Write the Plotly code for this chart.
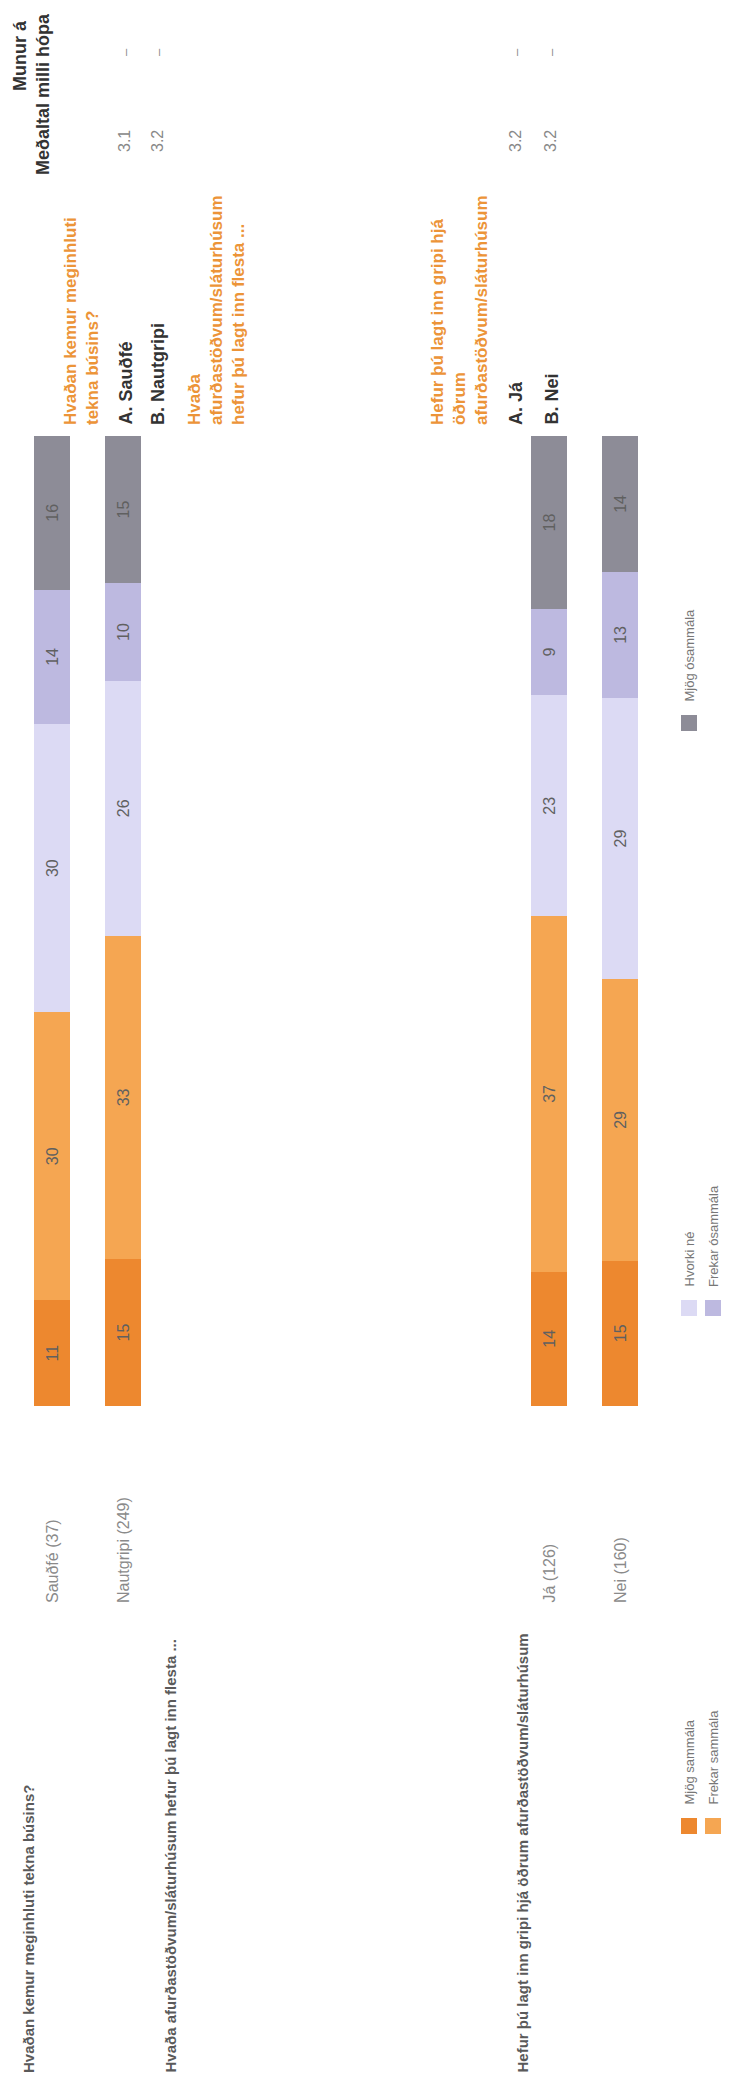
import plotly.graph_objects as go

# ---------------- data ----------------
categories = ["Sauðfé (37)", "Nautgripi (249)", "Já (126)", "Nei (160)"]
series_names = ["Mjög sammála", "Frekar sammála", "Hvorki né", "Frekar ósammála", "Mjög ósammála"]
mjog_sammala = [11, 15, 14, 15]
frekar_sammala = [30, 33, 37, 29]
hvorki_ne = [30, 26, 23, 29]
frekar_osammala = [14, 10, 9, 13]
mjog_osammala = [16, 15, 18, 14]

left_questions = [
    "Hvaðan kemur meginhluti tekna búsins?",
    "Hvaða afurðastöðvum/sláturhúsum hefur þú lagt inn flesta ...",
    "Hefur þú lagt inn gripi hjá öðrum afurðastöðvum/sláturhúsum",
]
table_questions = [
    "Hvaðan kemur meginhluti<br>tekna búsins?",
    "Hvaða<br>afurðastöðvum/sláturhúsum<br>hefur þú lagt inn flesta ...",
    "Hefur þú lagt inn gripi hjá<br>öðrum<br>afurðastöðvum/sláturhúsum",
]
table_rows = ["A. Sauðfé", "B. Nautgripi", "A. Já", "B. Nei"]
means = ["3.1", "3.2", "3.2", "3.2"]
diffs = ["–", "–", "–", "–"]
header_mean = "Meðaltal"
header_diff = "Munur á<br>milli hópa"

# ---------------- styling / layout ----------------
colors = ["#ED882F", "#F5A652", "#DCDAF4", "#BDB9E0", "#8D8C97"]
PAGE_W, PAGE_H = 731, 2085
OFF = 8                                  # default body margin of the html page
W, H = PAGE_W - 2 * OFF, PAGE_H - 2 * OFF
BAR_TOP, BAR_BOTTOM = 436 - OFF, 1406 - OFF
bar_pos = [0, 1, 7, 8]
FONT = "Arial, Liberation Sans, sans-serif"
ORANGE = "#EC9438"
X0 = 52 - OFF      # pixel of first bar centre
UNIT = 71          # pixels between neighbouring bars


def xp(px):
    return (px - OFF) / W


def yp(py):
    return (BAR_BOTTOM - (py - OFF)) / (BAR_BOTTOM - BAR_TOP)


fig = go.Figure()
all_series = [mjog_sammala, frekar_sammala, hvorki_ne, frekar_osammala, mjog_osammala]
for name, vals, col in zip(series_names, all_series, colors):
    fig.add_trace(go.Bar(
        x=bar_pos, y=vals, name=name, marker=dict(color=col, line=dict(width=0)),
        width=0.51, text=[str(v) for v in vals], textposition="inside",
        textangle=-90, insidetextanchor="middle", constraintext="none",
        textfont=dict(color="#606060", size=16, family=FONT),
        showlegend=False, hovertemplate=name + ": %{text}<extra></extra>",
    ))

ann = []
# left question labels
for q, px in zip(left_questions, [28, 170, 522]):
    ann.append(dict(text="<b>" + q + "</b>", xref="paper", yref="paper", x=xp(px), y=yp(2075),
                    xanchor="center", yanchor="bottom", textangle=-90, showarrow=False,
                    font=dict(size=15, color="#5a5a5a", family=FONT)))
# category labels
for c, pos in zip(categories, bar_pos):
    ann.append(dict(text=c, xref="x", yref="paper", x=pos, y=yp(1605),
                    xanchor="center", yanchor="bottom", textangle=-90, showarrow=False,
                    font=dict(size=16, color="#8a8a8a", family=FONT)))
# table questions (orange)
for q, px in zip(table_questions, [81, 216, 459]):
    ann.append(dict(text="<b>" + q + "</b>", xref="paper", yref="paper", x=xp(px), y=yp(427),
                    xanchor="center", yanchor="bottom", textangle=-90, showarrow=False,
                    align="left", font=dict(size=17, color=ORANGE, family=FONT)))
# table rows, means, diffs
for r, m, d, px in zip(table_rows, means, diffs, [125, 158, 516, 551]):
    ann.append(dict(text="<b>" + r + "</b>", xref="paper", yref="paper", x=xp(px), y=yp(427),
                    xanchor="center", yanchor="bottom", textangle=-90, showarrow=False,
                    font=dict(size=18, color="#333333", family=FONT)))
    ann.append(dict(text=m, xref="paper", yref="paper", x=xp(px), y=yp(141),
                    xanchor="center", yanchor="middle", textangle=-90, showarrow=False,
                    font=dict(size=16, color="#888888", family=FONT)))
    ann.append(dict(text=d, xref="paper", yref="paper", x=xp(px), y=yp(52),
                    xanchor="center", yanchor="middle", textangle=-90, showarrow=False,
                    font=dict(size=13, color="#888888", family=FONT)))
# headers
ann.append(dict(text="<b>" + header_mean + "</b>", xref="paper", yref="paper", x=xp(43), y=yp(139),
                xanchor="center", yanchor="middle", textangle=-90, showarrow=False,
                font=dict(size=18, color="#333333", family=FONT)))
ann.append(dict(text="<b>" + header_diff + "</b>", xref="paper", yref="paper", x=xp(31), y=yp(55),
                xanchor="center", yanchor="middle", textangle=-90, showarrow=False,
                align="center", font=dict(size=18, color="#333333", family=FONT)))

# manual rotated legend
legend_cols = [1826, 1308, 723]  # square centre (vertical position) of each legend column
legend_rows = [689, 713]         # horizontal position of each legend row
shapes = []
for i, (name, col) in enumerate(zip(series_names, colors)):
    cy = legend_cols[i // 2]
    cx = legend_rows[i % 2]
    shapes.append(dict(type="rect", xref="paper", yref="paper",
                       x0=xp(cx - 8), x1=xp(cx + 8), y0=yp(cy + 8), y1=yp(cy - 8),
                       fillcolor=col, line=dict(width=0)))
    ann.append(dict(text=name, xref="paper", yref="paper", x=xp(cx), y=yp(cy - 19),
                    xanchor="center", yanchor="bottom", textangle=-90, showarrow=False,
                    font=dict(size=13, color="#777777", family=FONT)))

fig.update_layout(
    width=W, height=H, barmode="stack", barnorm="percent",
    margin=dict(l=0, r=0, t=BAR_TOP, b=H - BAR_BOTTOM, pad=0),
    paper_bgcolor="white", plot_bgcolor="white",
    xaxis=dict(range=[-X0 / UNIT, (W - X0) / UNIT], visible=False, fixedrange=True),
    yaxis=dict(range=[0, 100], visible=False, fixedrange=True),
    annotations=ann, shapes=shapes, showlegend=False,
)

fig.write_html("out.html")
